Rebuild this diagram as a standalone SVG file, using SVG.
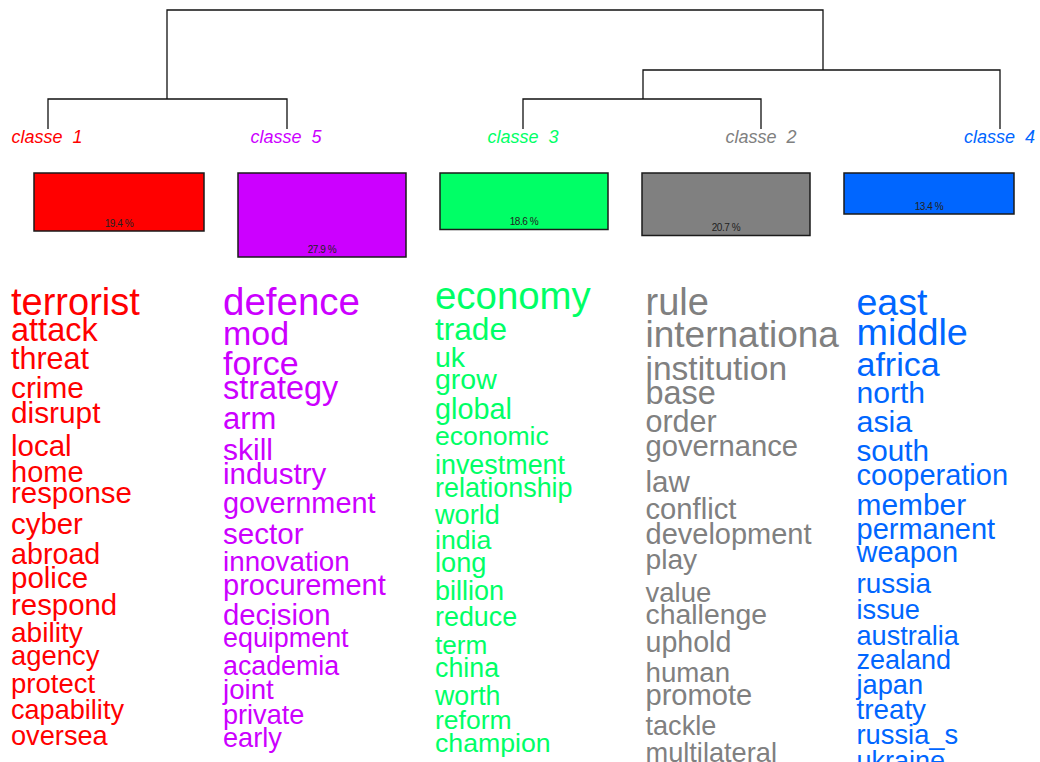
<svg xmlns="http://www.w3.org/2000/svg" width="1040" height="762" viewBox="0 0 1040 762">
<style>
text{font-family:"Liberation Sans",Arial,sans-serif;}
.lbl{font-size:18px;font-style:italic;text-anchor:middle;white-space:pre;}
.pct{font-size:10px;text-anchor:middle;fill:#222;letter-spacing:-0.4px;}
.box{stroke:#1a1a1a;stroke-width:1.5;}
.c1{fill:#FF0000;}
.c5{fill:#CC00FF;}
.c3{fill:#00FF66;}
.c2{fill:#808080;}
.c4{fill:#0066FF;}
.dend{fill:none;stroke:#111;stroke-width:1.3;}
</style>
<defs>
<clipPath id="clipGray"><rect x="0" y="0" width="840" height="762"/></clipPath>
</defs>
<rect width="1040" height="762" fill="#fff"/>
<g id="connectors" class="dend">
<path d="M167,99 V10 H823 V70"/>
<path d="M48,129 V99 H287 V129"/>
<path d="M643,99 V70 H1000 V129"/>
<path d="M523,129 V99 H761 V129"/>
</g>
<g id="classe1">
<text class="lbl c1" x="47" y="143">classe  1</text>
<rect class="box c1" x="34" y="173" width="170" height="58"/>
<text class="pct" x="119" y="226.5">19.4 %</text>
<g class="c1">
<text x="11" y="315" font-size="38">terrorist</text>
<text x="11" y="341" font-size="32.5">attack</text>
<text x="11" y="369" font-size="30.5">threat</text>
<text x="11" y="398" font-size="29.8">crime</text>
<text x="11" y="423" font-size="29.8">disrupt</text>
<text x="11" y="456" font-size="29.5">local</text>
<text x="11" y="482" font-size="29">home</text>
<text x="11" y="503" font-size="29.4">response</text>
<text x="11" y="534" font-size="29.4">cyber</text>
<text x="11" y="564" font-size="28.7">abroad</text>
<text x="11" y="588" font-size="29.5">police</text>
<text x="11" y="615" font-size="29.4">respond</text>
<text x="11" y="641.5" font-size="28.1">ability</text>
<text x="11" y="665" font-size="27.4">agency</text>
<text x="11" y="693" font-size="27.5">protect</text>
<text x="11" y="719" font-size="27.1">capability</text>
<text x="11" y="745" font-size="27.2">oversea</text>
</g>
</g>
<g id="classe5">
<text class="lbl c5" x="286" y="143">classe  5</text>
<rect class="box c5" x="238" y="173" width="168" height="84"/>
<text class="pct" x="322" y="252.5">27.9 %</text>
<g class="c5">
<text x="223" y="315" font-size="38.5">defence</text>
<text x="223" y="345" font-size="34">mod</text>
<text x="223" y="375" font-size="34">force</text>
<text x="223" y="398.5" font-size="32.4">strategy</text>
<text x="223" y="428.5" font-size="31">arm</text>
<text x="223" y="460" font-size="30">skill</text>
<text x="223" y="484" font-size="29.5">industry</text>
<text x="223" y="512.5" font-size="28.9">government</text>
<text x="223" y="543.5" font-size="29.6">sector</text>
<text x="223" y="571" font-size="27.8">innovation</text>
<text x="223" y="595" font-size="29">procurement</text>
<text x="223" y="625" font-size="29.3">decision</text>
<text x="223" y="647" font-size="26.9">equipment</text>
<text x="223" y="675" font-size="26.8">academia</text>
<text x="223" y="698.5" font-size="27.7">joint</text>
<text x="223" y="723.5" font-size="27.1">private</text>
<text x="223" y="747" font-size="27.2">early</text>
</g>
</g>
<g id="classe3">
<text class="lbl c3" x="523" y="143">classe  3</text>
<rect class="box c3" x="440" y="173" width="168" height="56.5"/>
<text class="pct" x="524" y="225">18.6 %</text>
<g class="c3">
<text x="435" y="308.5" font-size="38.4">economy</text>
<text x="435" y="340" font-size="31.6">trade</text>
<text x="435" y="366.5" font-size="28.5">uk</text>
<text x="435" y="388.5" font-size="28.5">grow</text>
<text x="435" y="418.5" font-size="28.8">global</text>
<text x="435" y="445" font-size="26.6">economic</text>
<text x="435" y="473.5" font-size="26.9">investment</text>
<text x="435" y="496.5" font-size="26.9">relationship</text>
<text x="435" y="523.5" font-size="27.1">world</text>
<text x="435" y="549" font-size="26.7">india</text>
<text x="435" y="571.5" font-size="27.2">long</text>
<text x="435" y="600" font-size="27">billion</text>
<text x="435" y="625.5" font-size="26.9">reduce</text>
<text x="435" y="653.5" font-size="26.2">term</text>
<text x="435" y="676.5" font-size="26.8">china</text>
<text x="435" y="705" font-size="26.8">worth</text>
<text x="435" y="728.5" font-size="26.5">reform</text>
<text x="435" y="751.5" font-size="26.7">champion</text>
</g>
</g>
<g id="classe2">
<text class="lbl c2" x="761" y="143">classe  2</text>
<rect class="box c2" x="642" y="173" width="168" height="62.5"/>
<text class="pct" x="726" y="230.5">20.7 %</text>
<g class="c2" clip-path="url(#clipGray)">
<text x="645.5" y="315" font-size="38">rule</text>
<text x="645.5" y="347" font-size="37">internationa</text>
<text x="645.5" y="380" font-size="33.5">institution</text>
<text x="645.5" y="404" font-size="32.4">base</text>
<text x="645.5" y="431.5" font-size="30.5">order</text>
<text x="645.5" y="455.5" font-size="29.2">governance</text>
<text x="645.5" y="491.5" font-size="29.5">law</text>
<text x="645.5" y="518.5" font-size="29.2">conflict</text>
<text x="645.5" y="543.5" font-size="29">development</text>
<text x="645.5" y="568.5" font-size="28.2">play</text>
<text x="645.5" y="601.5" font-size="27.5">value</text>
<text x="645.5" y="623.5" font-size="28.4">challenge</text>
<text x="645.5" y="651.5" font-size="28.6">uphold</text>
<text x="645.5" y="681.5" font-size="27.7">human</text>
<text x="645.5" y="705" font-size="29.1">promote</text>
<text x="645.5" y="735" font-size="27.1">tackle</text>
<text x="645.5" y="761.5" font-size="27.2">multilateral</text>
</g>
</g>
<g id="classe4">
<text class="lbl c4" x="999.5" y="143">classe  4</text>
<rect class="box c4" x="844" y="173" width="170" height="41"/>
<text class="pct" x="929" y="210">13.4 %</text>
<g class="c4">
<text x="856.5" y="315" font-size="37.5">east</text>
<text x="856.5" y="345" font-size="37.8">middle</text>
<text x="856.5" y="376" font-size="34">africa</text>
<text x="856.5" y="403" font-size="30.1">north</text>
<text x="856.5" y="432" font-size="30.4">asia</text>
<text x="856.5" y="461" font-size="29.7">south</text>
<text x="856.5" y="485" font-size="29">cooperation</text>
<text x="856.5" y="515" font-size="29.9">member</text>
<text x="856.5" y="539" font-size="29">permanent</text>
<text x="856.5" y="562" font-size="29">weapon</text>
<text x="856.5" y="593" font-size="27.9">russia</text>
<text x="856.5" y="618.5" font-size="27.2">issue</text>
<text x="856.5" y="645" font-size="27.1">australia</text>
<text x="856.5" y="669" font-size="27">zealand</text>
<text x="856.5" y="693.5" font-size="27.2">japan</text>
<text x="856.5" y="719" font-size="27.8">treaty</text>
<text x="856.5" y="743.5" font-size="27.3">russia_s</text>
<text x="856.5" y="769.5" font-size="27">ukraine</text>
</g>
</g>
</svg>
